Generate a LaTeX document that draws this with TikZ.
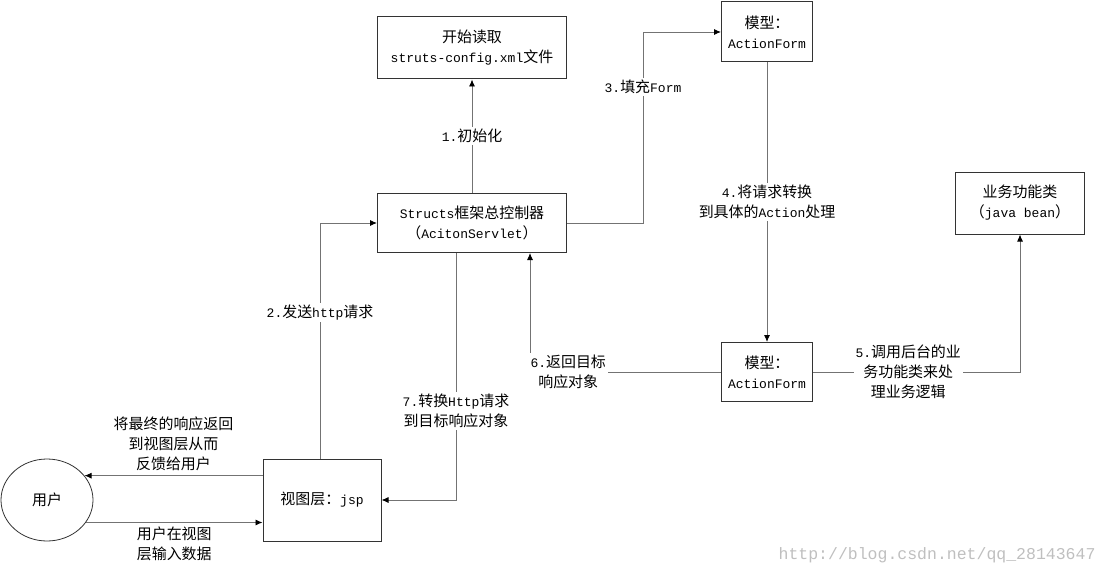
\documentclass[tikz,border=0pt]{standalone}
\usepackage{fontspec}
\setmainfont{Liberation Mono}
\newfontfamily\zhfont[Scale=1.15]{Noto Sans CJK SC}
\newcommand{\zh}[1]{{\zhfont #1}}
\usetikzlibrary{arrows.meta,positioning,shapes.geometric}

\begin{document}
\begin{tikzpicture}[x=1pt,y=-1pt,
    every node/.style={font=\fontsize{13}{20}\selectfont, align=center},
    box/.style={draw=black!80, line width=1pt, fill=white, inner sep=0pt},
    link/.style={draw=black!55, line width=0.9pt, -{Latex[black,length=7pt,width=6pt]}},
    tag/.style={fill=white, inner sep=2pt},
    ]
    \useasboundingbox (0,0) rectangle (1107,575);

    % boxes
    \node[box, minimum width=189, minimum height=62] (read) at (472,48) {\zh{开始读取}\\struts-config.xml\zh{文件}};
    \node[box, minimum width=189, minimum height=59] (ctrl) at (472,223) {Structs\zh{框架总控制器}\\\zh{（}AcitonServlet\zh{）}};
    \node[box, minimum width=91, minimum height=60] (form1) at (767,32) {\zh{模型：}\\ActionForm};
    \node[box, minimum width=91, minimum height=59] (form2) at (767,372) {\zh{模型：}\\ActionForm};
    \node[box, minimum width=129, minimum height=62] (bean) at (1020,203) {\zh{业务功能类}\\\zh{（}java bean\zh{）}};
    \node[box, minimum width=118, minimum height=82] (view) at (322,500) {\zh{视图层：}jsp};
    \node[draw=black!80, line width=0.8pt, ellipse, minimum width=92, minimum height=82] (user) at (47,500) {\zh{用户}};

    % connectors
    \draw[link] (ctrl) -- node[tag] {1.\zh{初始化}} (read);
    \draw[link] ([xshift=-2]view.north) |- node[tag, pos=0.31] {2.\zh{发送}http\zh{请求}} (ctrl.west);
    \draw[link] (ctrl.east) -| (643,87) node[tag] {3.\zh{填充}Form} |- (form1.west);
    \draw[link] (form1) -- node[tag] {4.\zh{将请求转换}\\\zh{到具体的}Action\zh{处理}} (form2);
    \draw[link] (form2.east) -| node[tag, pos=0.23] {5.\zh{调用后台的业}\\\zh{务功能类来处}\\\zh{理业务逻辑}} (bean.south);
    \draw[link] (form2.west) -| node[tag, pos=0.4] {6.\zh{返回目标}\\\zh{响应对象}} ([xshift=58]ctrl.south);
    \draw[link] ([xshift=-16]ctrl.south) |- node[tag, pos=0.32] {7.\zh{转换}Http\zh{请求}\\\zh{到目标响应对象}} (view.east);
    \draw[link] (user.33 -| view.west) -- node[above=1pt] {\zh{将最终的响应返回}\\\zh{到视图层从而}\\\zh{反馈给用户}} (user.33);
    \draw[link] (user.-30) -- node[below=1pt] {\zh{用户在视图}\\\zh{层输入数据}} (user.-30 -| view.west);

    \node[text=black!25, font=\fontsize{16.5}{16.5}\selectfont, anchor=east] (mark) at (1099,555) {http://blog.csdn.net/qq\_28143647};
\end{tikzpicture}
\end{document}
